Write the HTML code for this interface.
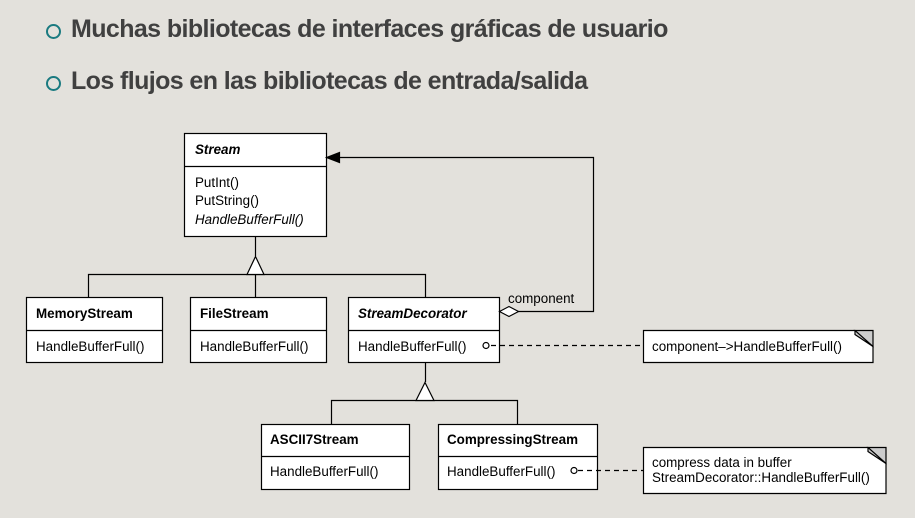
<!DOCTYPE html>
<html><head><meta charset="utf-8"><style>
body{margin:0;width:915px;height:518px;background:#e3e1dc;overflow:hidden;position:relative;font-family:"Liberation Sans",sans-serif}
.b{position:absolute;left:71px;font-size:25px;font-weight:bold;color:#404040;letter-spacing:-0.6px;white-space:nowrap}
.c{position:absolute;left:46px;width:11px;height:11px;border:2px solid #1a7a80;border-radius:50%}
svg{position:absolute;left:0;top:0}
text{font-family:"Liberation Sans",sans-serif;font-size:13.4px;fill:#000}
</style></head><body>
<div class="c" style="top:24px"></div>
<div class="b" style="top:15px">Muchas bibliotecas de interfaces gráficas de usuario</div>
<div class="c" style="top:76px"></div>
<div class="b" style="top:67px">Los flujos en las bibliotecas de entrada/salida</div>
<svg width="915" height="518" stroke="#000" stroke-width="1.2">
<g fill="#fff">
<rect x="184.5" y="133.5" width="142" height="103"/>
<rect x="26.5" y="297.5" width="136" height="65"/>
<rect x="190.5" y="297.5" width="136" height="65"/>
<rect x="348.5" y="297.5" width="151" height="65"/>
<rect x="261.5" y="424.5" width="148" height="65"/>
<rect x="438.5" y="424.5" width="159" height="65"/>
<path d="M643.5 330.5H855l18 16v16H643.5z"/>
<path d="M643.5 447.5H868l18 16v30H643.5z"/>
</g>
<path d="M855 330.5v4l18 12M855 330.5l18 0v16z" fill="#ccc"/>
<path d="M868 447.5v4l18 12M868 447.5l18 0v16z" fill="#ccc"/>
<g fill="none">
<path d="M184.5 166.5h142M26.5 330.5h136M190.5 330.5h136M348.5 330.5h151M261.5 456.5h148M438.5 456.5h159"/>
<path d="M255.5 236v20M88.5 297V274.5H425.5V297M255.5 274v23"/>
<path d="M425.5 362v20M331.5 424V400.5H517.5V424"/>
<path d="M518 311.5H593.5V157.5H338"/>
<path d="M491 345.5H643M578 470.5H643" stroke-dasharray="5,4"/>
</g>
<path d="M247 274.5h17l-8.5-18z M416 400.5h18l-9-18z" fill="#fff"/>
<path d="M499.5 311.5l9.5-5 9.5 5-9.5 5z" fill="#fff"/>
<path d="M326.5 157.5l13-5v10z" fill="#000"/>
<circle cx="486" cy="345.5" r="3" fill="#fff"/>
<circle cx="574" cy="470.5" r="3" fill="#fff"/>
<g stroke="none">
<text x="195" y="154" font-weight="bold" font-style="italic">Stream</text>
<text x="195" y="187">PutInt()</text>
<text x="195" y="205">PutString()</text>
<text x="195" y="224" font-style="italic">HandleBufferFull()</text>
<text x="36" y="318" font-weight="bold">MemoryStream</text>
<text x="36" y="351">HandleBufferFull()</text>
<text x="200" y="318" font-weight="bold">FileStream</text>
<text x="200" y="351">HandleBufferFull()</text>
<text x="358" y="318" font-weight="bold" font-style="italic">StreamDecorator</text>
<text x="358" y="351">HandleBufferFull()</text>
<text x="508" y="303">component</text>
<text x="270" y="444" font-weight="bold">ASCII7Stream</text>
<text x="270" y="476">HandleBufferFull()</text>
<text x="447" y="444" font-weight="bold">CompressingStream</text>
<text x="447" y="476">HandleBufferFull()</text>
<text x="652" y="351">component–&gt;HandleBufferFull()</text>
<text x="652" y="467">compress data in buffer</text>
<text x="652" y="482">StreamDecorator::HandleBufferFull()</text>
</g>
</svg>
</body></html>
